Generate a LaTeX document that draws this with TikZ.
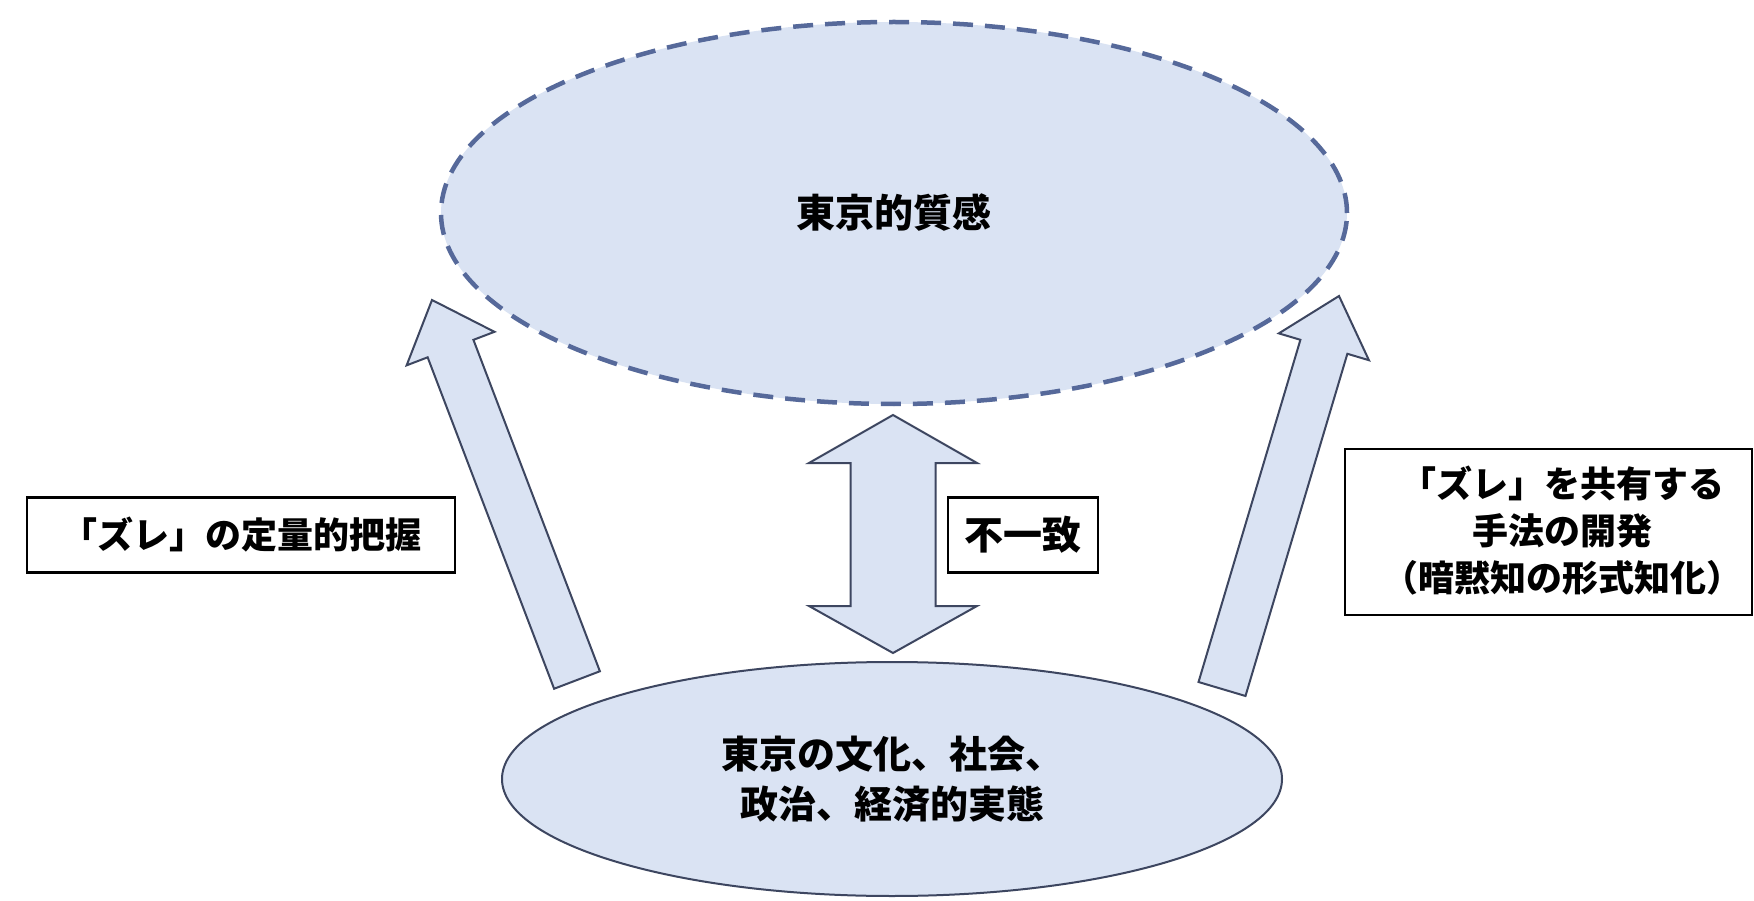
\documentclass[tikz,border=0pt]{standalone}
\usepackage{fontspec}
\setmainfont{Noto Sans CJK JP}
\usetikzlibrary{shapes.geometric,calc}
\definecolor{lblue}{HTML}{DAE3F3}
\definecolor{dashblue}{HTML}{56699A}
\definecolor{edgecol}{HTML}{3D4660}
\tikzset{
  arrowshape/.style={draw=edgecol, line width=2pt, fill=lblue, line join=miter},
  txt/.style={font=\bfseries\fontsize{39}{50}\selectfont},
  labelbox/.style={draw=black, line width=2.5pt, fill=white, inner sep=0pt},
}
\newcommand\blockarr[5]{%
  \coordinate (hb) at ($(#2)!#5!(#1)$);
  \draw[arrowshape] ($(#1)!#3!90:(#2)$) -- ($(hb)!#3!90:(#2)$) -- ($(hb)!#4!90:(#2)$) -- (#2)
    -- ($(hb)!#4!-90:(#2)$) -- ($(hb)!#3!-90:(#2)$) -- ($(#1)!#3!-90:(#2)$) -- cycle;
}
\begin{document}
\begin{tikzpicture}[x=1pt,y=-1pt]
\useasboundingbox (0,0) rectangle (1754,901);
\fill[white] (0,0) rectangle (1754,901);

\node[ellipse, draw=dashblue, line width=4.5pt, dash pattern=on 20pt off 12pt, fill=lblue,
      minimum width=906pt, minimum height=382pt, inner sep=0pt, txt] (top) at (894,213) {東京的質感};
\node[ellipse, draw=edgecol, line width=2pt, fill=lblue, minimum width=780pt, minimum height=234pt,
      inner sep=0pt, align=center, font=\bfseries\fontsize{38}{50}\selectfont] (bot) at (892,779)
      {東京の文化、社会、\\政治、経済的実態};

\coordinate (la-base) at (577,680); \coordinate (la-tip) at (432,300);
\coordinate (ra-base) at (1222,689); \coordinate (ra-tip) at (1339,296);
\blockarr{la-base}{la-tip}{24.5pt}{47pt}{52pt}
\blockarr{ra-base}{ra-tip}{24.5pt}{47pt}{53pt}

\coordinate (da-top) at (893,415); \coordinate (da-bot) at (893,653);
\draw[arrowshape] (da-top) -- ($(da-top)+(84,48)$) -- ($(da-top)+(42.5,48)$) -- ($(da-bot)+(42.5,-47)$)
  -- ($(da-bot)+(84,-47)$) -- (da-bot) -- ($(da-bot)+(-84,-47)$) -- ($(da-bot)+(-42.5,-47)$)
  -- ($(da-top)+(-42.5,48)$) -- ($(da-top)+(-84,48)$) -- cycle;

\node[labelbox, minimum width=428pt, minimum height=75pt, font=\bfseries\fontsize{36}{50}\selectfont]
      (lbox) at (241,535) {「ズレ」の定量的把握};
\node[labelbox, minimum width=150pt, minimum height=75pt, txt] (mbox) at (1023,535) {不一致};
\node[labelbox, minimum width=407pt, minimum height=166pt] (rbox) at (1548.5,532) {};
\node[align=center, inner sep=0pt, font=\bfseries\fontsize{36}{47}\selectfont] (rtext) at (1562,531)
      {「ズレ」を共有する\\手法の開発\\（暗黙知の形式知化）};
\end{tikzpicture}
\end{document}
